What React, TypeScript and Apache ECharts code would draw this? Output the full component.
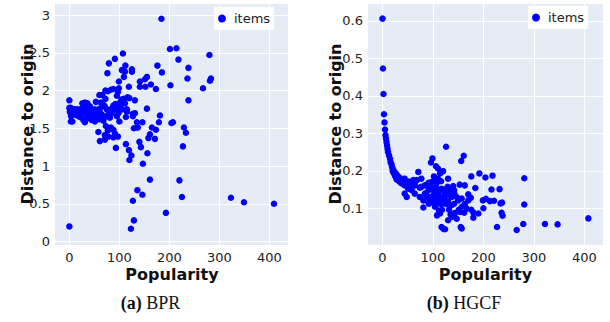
import React, { useEffect, useRef } from "react";
import * as echarts from "echarts";

const xTicks = [0, 100, 200, 300, 400];
const bprYTicks = [0, 0.5, 1, 1.5, 2, 2.5, 3];
const hgcfYTicks = [0.1, 0.2, 0.3, 0.4, 0.5, 0.6];

const bprPoints: [number, number][] = [
  [184, 2.95], [201, 2.55], [214, 2.56], [280, 2.47], [107, 2.49], [91, 2.42], [79, 2.36],
  [176, 2.33], [112, 2.33], [218, 2.41], [238, 2.3], [185, 2.24], [105, 2.27], [111, 2.25],
  [125, 2.28], [125, 2.25], [76, 2.23], [109, 2.18], [155, 2.18], [151, 2.15], [141, 2.12],
  [99, 2.12], [236, 2.16], [283, 2.16], [281, 2.13], [202, 2.07], [163, 2.08], [141, 2.05],
  [152, 2.05], [119, 2.05], [173, 2.02], [267, 2.03], [72, 2.0], [77, 1.99], [83, 2.01],
  [88, 2.02], [97, 1.98], [99, 2.03], [60, 1.94], [66, 1.94], [95, 1.93], [72, 1.89],
  [116, 1.91], [120, 1.9], [109, 1.89], [104, 1.88], [101, 1.84], [105, 1.83], [131, 1.87],
  [238, 1.87], [0, 1.87], [92, 1.82], [88, 1.8], [85, 1.76], [91, 1.75], [53, 1.85],
  [0, 1.77], [1, 1.72], [3, 1.69], [3, 1.59], [155, 1.76], [115, 1.75], [115, 1.72],
  [97, 1.75], [127, 1.69], [131, 1.7], [127, 1.66], [181, 1.67], [61, 1.76], [113, 1.65],
  [100, 1.59], [75, 1.66], [135, 1.51], [129, 1.5], [135, 1.58], [146, 1.58], [179, 1.58],
  [204, 1.57], [207, 1.58], [165, 1.51], [137, 1.51], [229, 1.51], [73, 1.53], [83, 1.51],
  [77, 1.47], [233, 1.44], [173, 1.48], [88, 1.48], [91, 1.43], [71, 1.41], [88, 1.38],
  [97, 1.39], [78, 1.39], [58, 1.45], [161, 1.42], [158, 1.37], [71, 1.35], [61, 1.33],
  [171, 1.36], [140, 1.32], [113, 1.29], [227, 1.26], [93, 1.24], [143, 1.25], [119, 1.21],
  [156, 1.17], [124, 1.14], [120, 1.08], [147, 1.03], [161, 0.82], [220, 0.81], [136, 0.68],
  [146, 0.62], [127, 0.54], [225, 0.59], [323, 0.58], [349, 0.52], [409, 0.5], [193, 0.38],
  [129, 0.28], [123, 0.17], [0, 0.2],
  [2.7, 1.77], [2, 1.74], [4.7, 1.7], [3.3, 1.66], [6, 1.59], [10, 1.75], [13, 1.71],
  [15, 1.75], [18, 1.7], [21, 1.75], [23, 1.71], [26, 1.75], [29, 1.7], [31, 1.73],
  [26, 1.83], [31, 1.84], [35, 1.81], [38, 1.79], [35, 1.75], [38, 1.71], [41, 1.77],
  [43, 1.7], [46, 1.74], [50, 1.75], [53, 1.72], [55, 1.69], [41, 1.66], [48, 1.65],
  [51, 1.61], [55, 1.67], [58, 1.75], [61, 1.71], [65, 1.68], [63, 1.84], [68, 1.81],
  [71, 1.79], [75, 1.75], [78, 1.68], [81, 1.64], [85, 1.7], [88, 1.75], [91, 1.77],
  [95, 1.66], [98, 1.7], [101, 1.79], [105, 1.75], [111, 1.83], [29, 1.8], [36, 1.83],
  [41, 1.79], [49, 1.72], [56, 1.7], [45, 1.64], [35, 1.66], [28, 1.61], [21, 1.65],
  [15, 1.67], [13, 1.72], [8, 1.75], [31, 1.58], [51, 1.59], [55, 1.64], [45, 1.68],
  [5, 1.72], [8, 1.68], [11, 1.73], [16, 1.72], [19, 1.68], [24, 1.69], [27, 1.72],
  [33, 1.69], [37, 1.64], [44, 1.61], [60, 1.62], [65, 1.62], [68, 1.6], [70, 1.65],
];

const hgcfPoints: [number, number][] = [
  [0, 0.606], [1, 0.473], [2, 0.405], [3, 0.351], [4, 0.329], [5, 0.31], [6, 0.295],
  [7, 0.286], [8, 0.277], [9, 0.268], [10, 0.259], [11, 0.25], [13, 0.241], [15, 0.232],
  [16, 0.223], [18, 0.217], [19, 0.21], [21, 0.204], [23, 0.198], [26, 0.194], [28, 0.19],
  [31, 0.185], [34, 0.181], [126, 0.264], [161, 0.24], [156, 0.226], [99, 0.233], [96, 0.222],
  [106, 0.212], [110, 0.206], [120, 0.199], [114, 0.193], [71, 0.197], [192, 0.193],
  [218, 0.187], [176, 0.185], [204, 0.182], [281, 0.18], [130, 0.179], [77, 0.179],
  [102, 0.185], [116, 0.172], [153, 0.163], [163, 0.161], [140, 0.159], [184, 0.154],
  [216, 0.15], [232, 0.151], [122, 0.15], [170, 0.137], [205, 0.125], [199, 0.121],
  [213, 0.119], [221, 0.12], [200, 0.1], [234, 0.113], [237, 0.115], [281, 0.11],
  [180, 0.089], [162, 0.088], [180, 0.075], [236, 0.088], [238, 0.08], [143, 0.086],
  [132, 0.096], [108, 0.081], [81, 0.102], [279, 0.058], [322, 0.058], [347, 0.057],
  [408, 0.073], [266, 0.042], [227, 0.05], [117, 0.05], [124, 0.044], [121, 0.045],
  [155, 0.05], [157, 0.046], [137, 0.077], [147, 0.072], [151, 0.096], [154, 0.09],
  [112, 0.094], [118, 0.096], [127, 0.111], [130, 0.117], [137, 0.108], [142, 0.112],
  [92, 0.112], [97, 0.121], [105, 0.126], [112, 0.114], [117, 0.121], [122, 0.13],
  [132, 0.137], [137, 0.13], [143, 0.137], [147, 0.13], [81, 0.121], [74, 0.13],
  [84, 0.139], [91, 0.148], [95, 0.157], [101, 0.148], [106, 0.157], [112, 0.144],
  [117, 0.152], [124, 0.139], [129, 0.157], [134, 0.148], [142, 0.148], [74, 0.155],
  [64, 0.139], [58, 0.148], [51, 0.152], [44, 0.139], [48, 0.13], [38, 0.175], [41, 0.168],
  [44, 0.171], [48, 0.166], [51, 0.171], [54, 0.166], [58, 0.171], [61, 0.175], [64, 0.168],
  [68, 0.175], [44, 0.161], [51, 0.16], [58, 0.158], [64, 0.161], [54, 0.155], [44, 0.179],
  [38, 0.166], [34, 0.171], [31, 0.175], [28, 0.177], [87, 0.135], [94, 0.13], [101, 0.135],
  [107, 0.139], [114, 0.13], [101, 0.117], [107, 0.111], [87, 0.121], [77, 0.157],
  [84, 0.161], [91, 0.168], [97, 0.17], [104, 0.175], [107, 0.166], [110, 0.179],
  [157, 0.126], [170, 0.121], [175, 0.128], [150, 0.121], [127, 0.121], [117, 0.111],
  [176, 0.096], [190, 0.086], [157, 0.104], [163, 0.111], [167, 0.099], [143, 0.087],
  [130, 0.068], [135, 0.084], [114, 0.086], [104, 0.104], [20, 0.2], [22, 0.195],
  [24, 0.19], [25, 0.186], [27, 0.183], [30, 0.18], [33, 0.176], [36, 0.172], [40, 0.17],
  [42, 0.175], [46, 0.168],
];

const FONT = "DejaVu Sans";
const BG = "#E5ECF6";
const DOT = "#0000ff";
const LABEL_COLOR = "#222";

function xAxisFor(gridIndex: number) {
  return {
    type: "value",
    gridIndex,
    min: -28.7,
    max: 437,
    axisLine: { show: false },
    axisTick: { show: false, customValues: xTicks },
    splitLine: { show: true, lineStyle: { color: "#fff", width: 1 } },
    axisLabel: {
      customValues: xTicks,
      fontFamily: FONT,
      fontSize: 13,
      lineHeight: 13,
      color: LABEL_COLOR,
      margin: 6,
    },
  };
}

function yAxisFor(gridIndex: number, min: number, max: number, ticks: number[]) {
  return {
    type: "value",
    gridIndex,
    min,
    max,
    axisLine: { show: false },
    axisTick: { show: false, customValues: ticks },
    splitLine: { show: true, lineStyle: { color: "#fff", width: 1 } },
    axisLabel: {
      customValues: ticks,
      fontFamily: FONT,
      fontSize: 13,
      color: LABEL_COLOR,
      margin: 5,
    },
  };
}

function legendAt(left: number, top: number) {
  return {
    left,
    top,
    orient: "horizontal",
    data: ["items"],
    icon: "circle",
    itemWidth: 14,
    itemHeight: 8,
    backgroundColor: "#fff",
    padding: [5, 4, 5, 4],
    textStyle: { fontFamily: FONT, fontSize: 13, color: LABEL_COLOR },
    selectedMode: false,
  };
}

export default function App() {
  const ref = useRef<HTMLDivElement>(null);
  useEffect(() => {
    if (!ref.current) return;
    const chart = echarts.init(ref.current, undefined, { renderer: "svg" });
    const titleStyle = { font: `bold 16px "${FONT}"`, fill: "#111", align: "center", verticalAlign: "middle" };
    const capRich = {
      b: { fontFamily: "Liberation Serif", fontWeight: "bold", fontSize: 18, fill: "#111" },
      n: { fontFamily: "Liberation Serif", fontSize: 18, fill: "#111" },
    };
    chart.setOption({
      animation: false,
      grid: [
        { left: 55, top: 4, width: 233, height: 241, show: true, backgroundColor: BG, borderWidth: 0, containLabel: false },
        { left: 368, top: 4, width: 235, height: 241, show: true, backgroundColor: BG, borderWidth: 0, containLabel: false },
      ],
      xAxis: [xAxisFor(0), xAxisFor(1)],
      yAxis: [yAxisFor(0, -0.046, 3.146, bprYTicks), yAxisFor(1, 0.002, 0.645, hgcfYTicks)],
      legend: [legendAt(214, 7), legendAt(528, 6)],
      series: [
        {
          name: "items",
          type: "scatter",
          xAxisIndex: 0,
          yAxisIndex: 0,
          data: bprPoints,
          symbolSize: 6.5,
          itemStyle: { color: DOT, opacity: 1 },
          clip: false,
        },
        {
          name: "items",
          type: "scatter",
          xAxisIndex: 1,
          yAxisIndex: 1,
          data: hgcfPoints,
          symbolSize: 6.5,
          itemStyle: { color: DOT, opacity: 1 },
          clip: false,
        },
      ],
      graphic: [
        { type: "text", x: 172, y: 274, style: { ...titleStyle, text: "Popularity" } },
        { type: "text", x: 485.5, y: 274, style: { ...titleStyle, text: "Popularity" } },
        { type: "text", x: 27, y: 124, rotation: Math.PI / 2, style: { ...titleStyle, text: "Distance to origin" } },
        { type: "text", x: 335, y: 124, rotation: Math.PI / 2, style: { ...titleStyle, text: "Distance to origin" } },
        {
          type: "text",
          x: 150.5,
          y: 303,
          style: { text: "{b|(a)}{n| BPR}", rich: capRich, align: "center", verticalAlign: "middle" },
        },
        {
          type: "text",
          x: 464,
          y: 303,
          style: { text: "{b|(b)}{n| HGCF}", rich: capRich, align: "center", verticalAlign: "middle" },
        },
      ],
    });
    return () => chart.dispose();
  }, []);
  return (
    <div
      ref={ref}
      style={{ position: "fixed", left: 0, top: 0, width: 610, height: 322, background: "#fff" }}
    />
  );
}
